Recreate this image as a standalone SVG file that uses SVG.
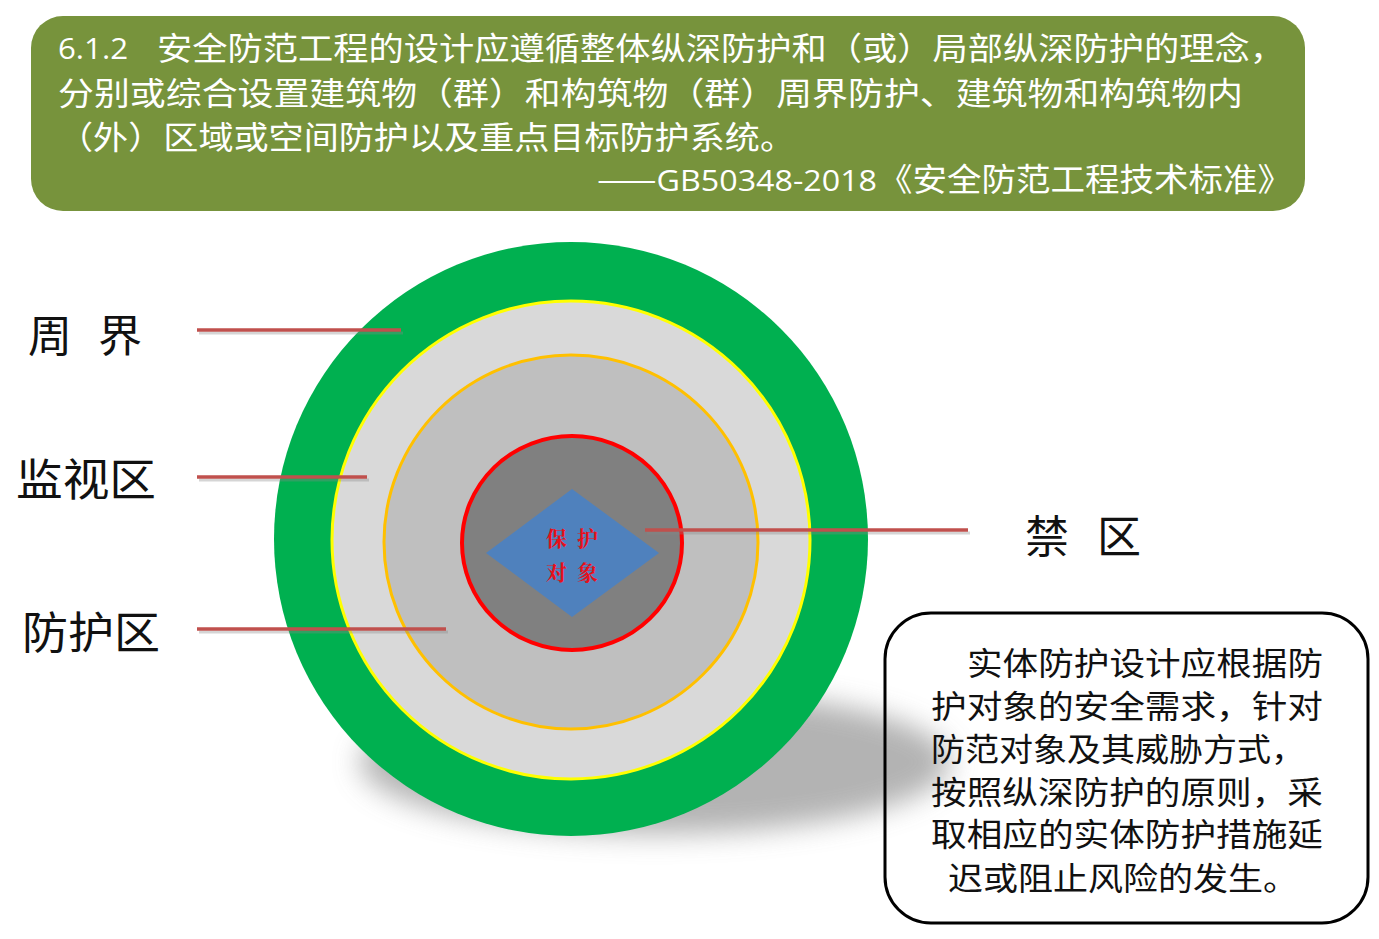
<svg xmlns="http://www.w3.org/2000/svg" width="1379" height="939" viewBox="0 0 1379 939">
<style>
.hdr{font-family:"Noto Sans CJK SC","Liberation Sans",sans-serif;font-size:32px;fill:#ffffff;}
.lat{font-family:"Open Sans","Liberation Sans",sans-serif;font-size:29px;}
.lbl{font-family:"Noto Sans CJK SC","Liberation Sans",sans-serif;font-size:44px;fill:#111111;}
.box{font-family:"Noto Sans CJK SC","Liberation Sans",sans-serif;font-size:32px;fill:#111111;}
.obj{font-family:"Noto Serif CJK SC","Noto Sans CJK SC",serif;font-size:21px;fill:#e8101a;font-weight:bold;}
.lead{stroke:#c0504d;stroke-width:3.5;fill:none;}
.leadsh{stroke:#888888;stroke-width:3;fill:none;opacity:0.35;}
</style>
<defs>
<filter id="blur" x="-30%" y="-60%" width="160%" height="220%"><feGaussianBlur stdDeviation="14"/></filter>
</defs>
<rect width="1379" height="939" fill="#ffffff"/>
<g id="header">
<rect x="31" y="16" width="1274" height="195" rx="32" ry="32" fill="#77933c"/>
<text class="hdr lat" x="58" y="59" textLength="70" lengthAdjust="spacingAndGlyphs">6.1.2</text>
<text class="hdr" x="157" y="60" textLength="1128" lengthAdjust="spacingAndGlyphs">安全防范工程的设计应遵循整体纵深防护和（或）局部纵深防护的理念，</text>
<text class="hdr" x="58" y="105" textLength="1185" lengthAdjust="spacingAndGlyphs">分别或综合设置建筑物（群）和构筑物（群）周界防护、建筑物和构筑物内</text>
<text class="hdr" x="58" y="149" textLength="737" lengthAdjust="spacingAndGlyphs">（外）区域或空间防护以及重点目标防护系统。</text>
<text class="hdr" x="597" y="191" textLength="280" lengthAdjust="spacingAndGlyphs">——<tspan class="lat">GB50348-2018</tspan></text>
<text class="hdr" x="878" y="191" textLength="414" lengthAdjust="spacingAndGlyphs">《安全防范工程技术标准》</text>
</g>
<g id="shadow">
<ellipse cx="655" cy="762" rx="295" ry="72" fill="#9a9a9a" opacity="0.75" filter="url(#blur)"/>
</g>
<g id="perimeter"><circle cx="571" cy="539" r="297" fill="#00b050"/></g>
<g id="surveillance-zone"><circle cx="571" cy="540" r="239" fill="#d9d9d9" stroke="#ffff00" stroke-width="3"/></g>
<g id="protection-zone"><circle cx="571" cy="542" r="187" fill="#bfbfbf" stroke="#ffc000" stroke-width="3"/></g>
<g id="restricted-zone"><ellipse cx="572" cy="543" rx="110" ry="107" fill="#808080" stroke="#ff0000" stroke-width="4"/></g>
<g id="protected-object">
<polygon points="572,489 659,553 572,617 486,553" fill="#4f81bd"/>
<text class="obj" x="546" y="546">保</text><text class="obj" x="577" y="546">护</text>
<text class="obj" x="546" y="580">对</text><text class="obj" x="577" y="580">象</text>
</g>
<g id="connectors">
<line class="leadsh" x1="199" y1="333" x2="403" y2="333"/>
<line class="lead" x1="197" y1="330" x2="401" y2="330"/>
<line class="leadsh" x1="199" y1="480" x2="369" y2="480"/>
<line class="lead" x1="197" y1="477" x2="367" y2="477"/>
<line class="leadsh" x1="199" y1="632" x2="448" y2="632"/>
<line class="lead" x1="197" y1="629" x2="446" y2="629"/>
<line class="leadsh" x1="647" y1="533" x2="970" y2="533"/>
<line class="lead" x1="645" y1="530" x2="968" y2="530"/>
</g>
<g id="label-perimeter"><text class="lbl" x="28" y="352">周</text><text class="lbl" x="98" y="352">界</text></g>
<g id="label-surveillance"><text class="lbl" x="16" y="496" textLength="140" lengthAdjust="spacingAndGlyphs">监视区</text></g>
<g id="label-protection"><text class="lbl" x="22" y="649" textLength="138" lengthAdjust="spacingAndGlyphs">防护区</text></g>
<g id="label-restricted"><text class="lbl" x="1025" y="553">禁</text><text class="lbl" x="1097" y="553">区</text></g>
<g id="note">
<rect x="885" y="613" width="483" height="310" rx="46" ry="46" fill="none" stroke="#000000" stroke-width="3"/>
<text class="box" x="967" y="675" textLength="356" lengthAdjust="spacingAndGlyphs">实体防护设计应根据防</text>
<text class="box" x="931" y="718" textLength="392" lengthAdjust="spacingAndGlyphs">护对象的安全需求，针对</text>
<text class="box" x="931" y="761" textLength="374" lengthAdjust="spacingAndGlyphs">防范对象及其威胁方式，</text>
<text class="box" x="931" y="804" textLength="392" lengthAdjust="spacingAndGlyphs">按照纵深防护的原则，采</text>
<text class="box" x="931" y="846" textLength="392" lengthAdjust="spacingAndGlyphs">取相应的实体防护措施延</text>
<text class="box" x="948" y="890" textLength="350" lengthAdjust="spacingAndGlyphs">迟或阻止风险的发生。</text>
</g>
</svg>
